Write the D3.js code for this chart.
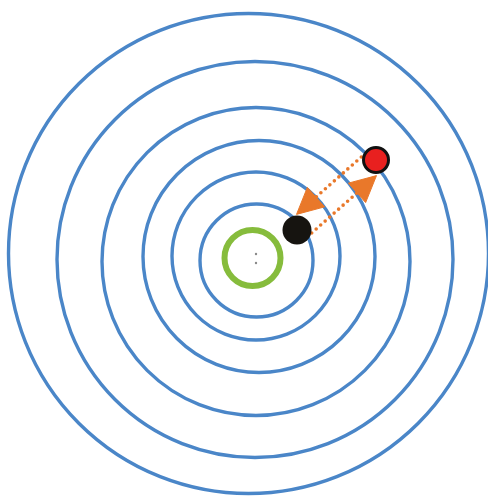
<!DOCTYPE html>
<html>
<head>
<meta charset="utf-8">
<script src="https://cdn.jsdelivr.net/npm/d3@7"></script>
<style>
  html, body { margin: 0; padding: 0; background: #fff; }
  svg { display: block; }
</style>
</head>
<body>
<div id="target"></div>
<script>
// Target rings, in data units (centre of the bull at 0,0)
var ringX = [-0.65, 0.0, 0.1, 0.4, 0.1, 0.15];
var ringY = [0.45, -0.15, -0.35, 0.15, 0.2, -0.25];
var ringR = [24.0, 19.8, 15.4, 11.6, 8.4, 5.65];

// Bull (green ring)
var bull = { x: -0.25, y: 0, r: 2.8 };

// Shots: black and red
var shotNames = ["black", "red"];
var shotX = [4.2, 12.1];
var shotY = [2.8, 9.8];

// Arrows between the shots (from -> to, side of the black-red line: 1 = upper left)
var arrowFrom = ["red", "black"];
var arrowTo = ["black", "red"];
var arrowSide = [1, -1];

function drawTarget() {
    var width = 488, height = 501;

    var svg = d3.select("#target")
        .append("svg")
        .attr("width", width)
        .attr("height", height);

    // 10px per unit, origin at (255, 258)
    var x = d3.scaleLinear().domain([-25.5, 23.3]).range([0, 488]);
    var y = d3.scaleLinear().domain([25.8, -24.3]).range([0, 501]);
    var r = d3.scaleLinear().domain([0, 10]).range([0, 100]);

    var rings = ringR.map(function (d, i) { return { x: ringX[i], y: ringY[i], r: d }; });

    // Blue rings
    svg.selectAll("circle.ring")
        .data(rings)
        .enter()
        .append("circle")
        .attr("class", "ring")
        .attr("cx", function (d) { return x(d.x); })
        .attr("cy", function (d) { return y(d.y); })
        .attr("r", function (d) { return r(d.r); })
        .attr("fill", "none")
        .attr("stroke", "#4a86c8")
        .attr("stroke-width", 3.4);

    // Green bull
    svg.append("circle")
        .attr("cx", x(bull.x))
        .attr("cy", y(bull.y))
        .attr("r", r(bull.r))
        .attr("fill", "none")
        .attr("stroke", "#86bc3c")
        .attr("stroke-width", 6);

    // tiny mark in the middle of the bull
    [0.4, -0.5].forEach(function (dy) {
        svg.append("circle")
            .attr("cx", x(bull.x + 0.35))
            .attr("cy", y(bull.y + dy))
            .attr("r", 1.2)
            .attr("fill", "#8a8a8a");
    });

    var shots = {};
    shotNames.forEach(function (n, i) { shots[n] = { x: shotX[i], y: shotY[i] }; });

    // unit vector black -> red and its upper-left normal
    var bx0 = x(shots.black.x), by0 = y(shots.black.y);
    var rx0 = x(shots.red.x), ry0 = y(shots.red.y);
    var blen = Math.hypot(rx0 - bx0, ry0 - by0);
    var nx = (ry0 - by0) / blen, ny = -(rx0 - bx0) / blen;

    // Arrows
    var offset = 12, tailTrim = 9, tipTrim = 10, headLen = 26, headHalf = 13;
    var orange = "#e9782a";

    arrowFrom.forEach(function (f, i) {
        var a = shots[f], b = shots[arrowTo[i]];
        var x1 = x(a.x), y1 = y(a.y), x2 = x(b.x), y2 = y(b.y);
        var len = Math.hypot(x2 - x1, y2 - y1);
        var ux = (x2 - x1) / len, uy = (y2 - y1) / len;
        var px = nx * arrowSide[i], py = ny * arrowSide[i];

        var sx = x1 + ux * tailTrim + px * offset;
        var sy = y1 + uy * tailTrim + py * offset;
        var tx = x2 - ux * tipTrim + px * offset;
        var ty = y2 - uy * tipTrim + py * offset;
        var hx = tx - ux * headLen, hy = ty - uy * headLen;

        svg.append("line")
            .attr("x1", sx).attr("y1", sy)
            .attr("x2", hx).attr("y2", hy)
            .attr("stroke", orange)
            .attr("stroke-width", 3.6)
            .attr("stroke-linecap", "round")
            .attr("stroke-dasharray", "0,6");

        svg.append("path")
            .datum([[tx, ty], [hx + px * headHalf, hy + py * headHalf], [hx - px * headHalf, hy - py * headHalf]])
            .attr("d", function (d) { return d3.line()(d) + "Z"; })
            .attr("fill", orange)
            .attr("stroke", orange)
            .attr("stroke-width", 1)
            .attr("stroke-linejoin", "round");
    });

    // Shots
    svg.append("circle")
        .attr("cx", bx0)
        .attr("cy", by0)
        .attr("r", 14.5)
        .attr("fill", "#161410");

    svg.append("circle")
        .attr("cx", rx0)
        .attr("cy", ry0)
        .attr("r", 12.5)
        .attr("fill", "#e8201f")
        .attr("stroke", "#111")
        .attr("stroke-width", 3);
}

drawTarget();
</script>
</body>
</html>
